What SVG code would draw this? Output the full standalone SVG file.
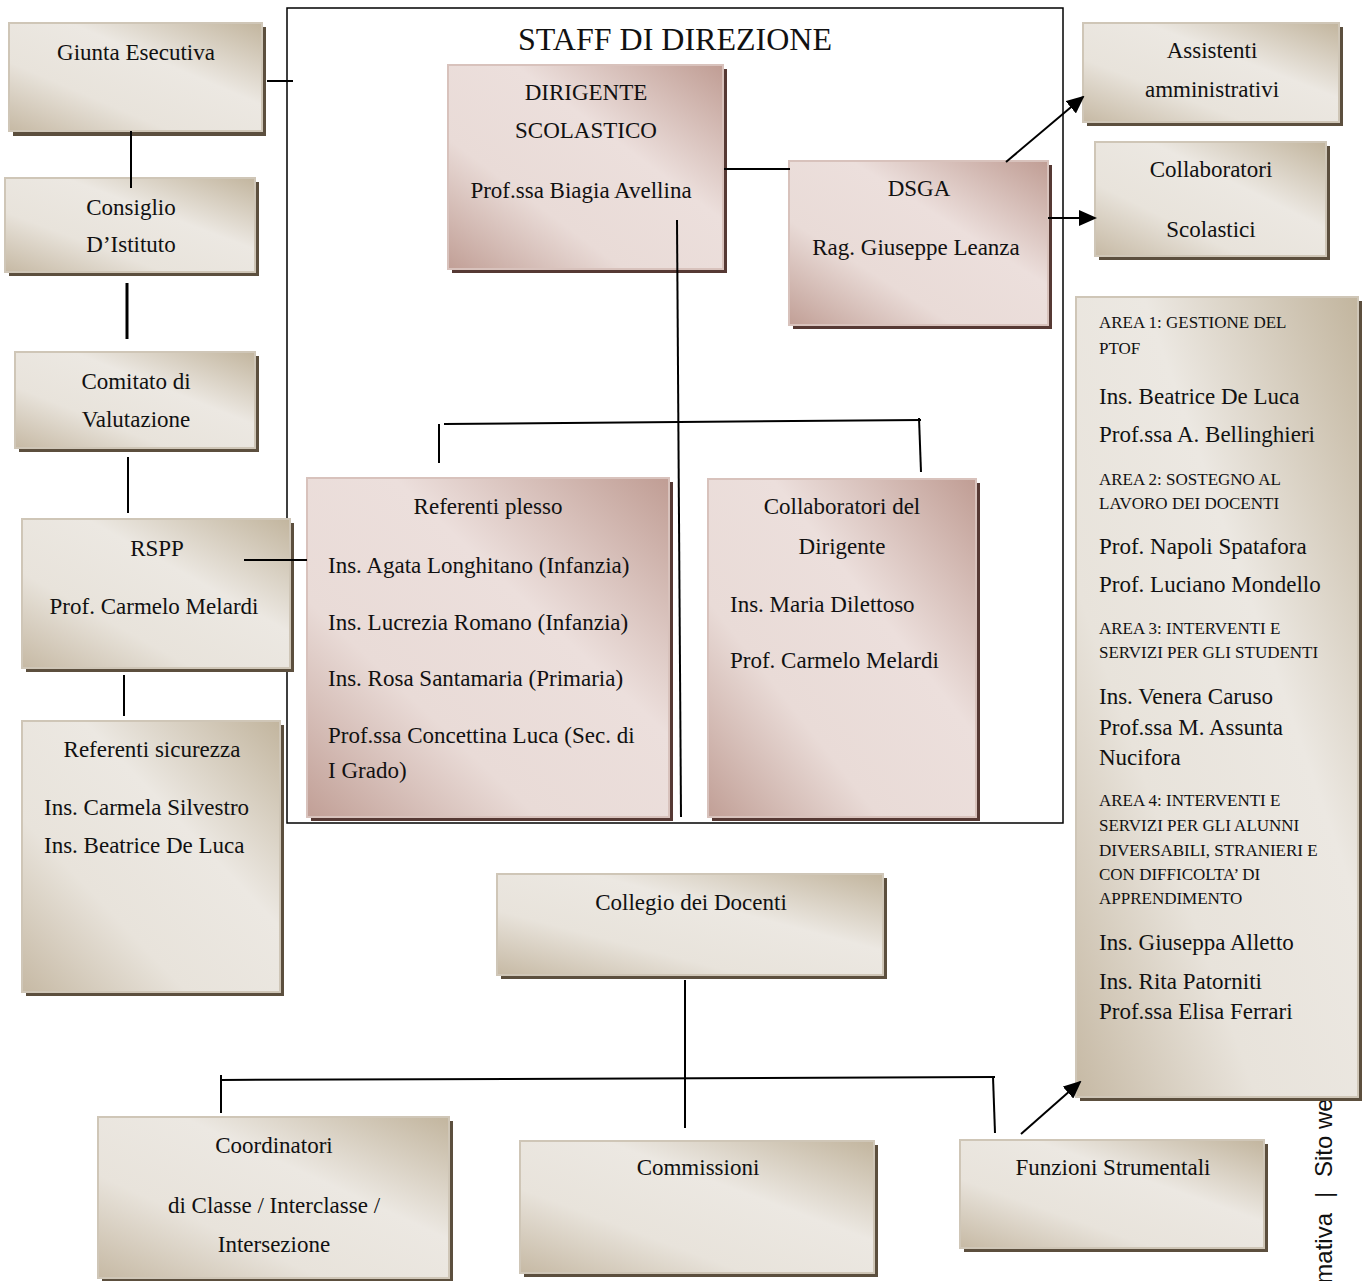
<svg xmlns="http://www.w3.org/2000/svg" width="1367" height="1281" viewBox="0 0 1367 1281">
<defs>
<linearGradient id="gTan" x1="0" y1="1" x2="1" y2="0">
<stop offset="0" stop-color="#c6b9a4"/>
<stop offset="0.32" stop-color="#e8e3db"/>
<stop offset="0.62" stop-color="#ece8e2"/>
<stop offset="1" stop-color="#c2b59e"/>
</linearGradient>
<linearGradient id="gPink" x1="0" y1="1" x2="1" y2="0">
<stop offset="0" stop-color="#c19f96"/>
<stop offset="0.32" stop-color="#e9dbd7"/>
<stop offset="0.62" stop-color="#ecdfdc"/>
<stop offset="1" stop-color="#c09d94"/>
</linearGradient>
<marker id="arr" markerUnits="userSpaceOnUse" markerWidth="18" markerHeight="16" refX="16" refY="8" orient="auto">
<path d="M0,0 L18,8 L0,16 Z" fill="#000"/>
</marker>
</defs>
<style>
.sh-t{fill:#5c4f3e}
.sh-p{fill:#563934}
.bx-t{fill:url(#gTan);stroke:#cfc6b7;stroke-width:2}
.bx-p{fill:url(#gPink);stroke:#d8c2bc;stroke-width:2}
text{font-family:"Liberation Serif","Times New Roman",serif;fill:#111}
.t{font-size:23px}
.c{text-anchor:middle}
.s{font-size:17px}
.big{font-size:32px}
.hdr{font-family:"Liberation Sans",Arial,sans-serif;font-size:24px;fill:#111}
.ln{stroke:#000;stroke-width:2;fill:none}
.lnk{stroke:#000;stroke-width:3;fill:none}
</style>
<rect width="1367" height="1281" fill="#fff"/>
<g id="header">
<g transform="translate(1332,0) rotate(-90)">
<text class="hdr" x="-1213" y="0" text-anchor="end">mativa</text>
<text class="hdr" x="-1198" y="0">|</text>
<text class="hdr" x="-1177" y="0">Sito we</text>
</g>
</g>
<g id="staff-frame">
<rect x="287" y="8" width="776" height="815" fill="none" stroke="#000" stroke-width="1.5"/>
<text class="big c" x="675" y="50">STAFF DI DIREZIONE</text>
</g>
<g id="giunta">
<rect class="sh-t" x="13" y="27" width="253" height="109"/>
<rect class="bx-t" x="9" y="23" width="253" height="108"/>
<text class="t c" x="136" y="60">Giunta Esecutiva</text>
</g>
<g id="consiglio">
<rect class="sh-t" x="9" y="182" width="250" height="94"/>
<rect class="bx-t" x="5" y="178" width="250" height="94"/>
<text class="t c" x="131" y="215">Consiglio</text>
<text class="t c" x="131" y="252">D’Istituto</text>
</g>
<g id="comitato">
<rect class="sh-t" x="19" y="356" width="240" height="96"/>
<rect class="bx-t" x="15" y="352" width="240" height="96"/>
<text class="t c" x="136" y="389">Comitato di</text>
<text class="t c" x="136" y="427">Valutazione</text>
</g>
<g id="rspp">
<rect class="sh-t" x="26" y="523" width="268" height="149"/>
<rect class="bx-t" x="22" y="519" width="268" height="149"/>
<text class="t c" x="157" y="556">RSPP</text>
<text class="t c" x="154" y="614">Prof. Carmelo Melardi</text>
</g>
<g id="ref-sicurezza">
<rect class="sh-t" x="26" y="725" width="258" height="271"/>
<rect class="bx-t" x="22" y="721" width="258" height="271"/>
<text class="t c" x="152" y="757">Referenti sicurezza</text>
<text class="t" x="44" y="815">Ins. Carmela Silvestro</text>
<text class="t" x="44" y="853">Ins. Beatrice De Luca</text>
</g>
<g id="dirigente">
<rect class="sh-p" x="452" y="69" width="275" height="204"/>
<rect class="bx-p" x="448" y="65" width="275" height="204"/>
<text class="t c" x="586" y="100">DIRIGENTE</text>
<text class="t c" x="586" y="138">SCOLASTICO</text>
<text class="t c" x="581" y="198">Prof.ssa Biagia Avellina</text>
</g>
<g id="dsga">
<rect class="sh-p" x="793" y="165" width="259" height="164"/>
<rect class="bx-p" x="789" y="161" width="259" height="164"/>
<text class="t c" x="919" y="196">DSGA</text>
<text class="t c" x="916" y="255">Rag. Giuseppe Leanza</text>
</g>
<g id="assistenti">
<rect class="sh-t" x="1087" y="27" width="256" height="99"/>
<rect class="bx-t" x="1083" y="23" width="256" height="99"/>
<text class="t c" x="1212" y="58">Assistenti</text>
<text class="t c" x="1212" y="97">amministrativi</text>
</g>
<g id="collab-scol">
<rect class="sh-t" x="1099" y="146" width="231" height="114"/>
<rect class="bx-t" x="1095" y="142" width="231" height="114"/>
<text class="t c" x="1211" y="177">Collaboratori</text>
<text class="t c" x="1211" y="237">Scolastici</text>
</g>
<g id="aree">
<rect class="sh-t" x="1080" y="301" width="282" height="800"/>
<rect class="bx-t" x="1076" y="297" width="282" height="800"/>
<text class="s" x="1099" y="328">AREA 1: GESTIONE DEL</text>
<text class="s" x="1099" y="354">PTOF</text>
<text class="t" x="1099" y="404">Ins. Beatrice De Luca</text>
<text class="t" x="1099" y="442">Prof.ssa A. Bellinghieri</text>
<text class="s" x="1099" y="485">AREA 2: SOSTEGNO AL</text>
<text class="s" x="1099" y="509">LAVORO DEI DOCENTI</text>
<text class="t" x="1099" y="554">Prof. Napoli Spatafora</text>
<text class="t" x="1099" y="592">Prof. Luciano Mondello</text>
<text class="s" x="1099" y="634">AREA 3: INTERVENTI E</text>
<text class="s" x="1099" y="658">SERVIZI PER GLI STUDENTI</text>
<text class="t" x="1099" y="704">Ins. Venera Caruso</text>
<text class="t" x="1099" y="735">Prof.ssa M. Assunta</text>
<text class="t" x="1099" y="765">Nucifora</text>
<text class="s" x="1099" y="806">AREA 4: INTERVENTI E</text>
<text class="s" x="1099" y="831">SERVIZI PER GLI ALUNNI</text>
<text class="s" x="1099" y="856">DIVERSABILI, STRANIERI E</text>
<text class="s" x="1099" y="880">CON DIFFICOLTA’ DI</text>
<text class="s" x="1099" y="904">APPRENDIMENTO</text>
<text class="t" x="1099" y="950">Ins. Giuseppa Alletto</text>
<text class="t" x="1099" y="989">Ins. Rita Patorniti</text>
<text class="t" x="1099" y="1019">Prof.ssa Elisa Ferrari</text>
</g>
<g id="ref-plesso">
<rect class="sh-p" x="311" y="482" width="362" height="339"/>
<rect class="bx-p" x="307" y="478" width="362" height="339"/>
<text class="t c" x="488" y="514">Referenti plesso</text>
<text class="t" x="328" y="573">Ins. Agata Longhitano (Infanzia)</text>
<text class="t" x="328" y="630">Ins. Lucrezia Romano (Infanzia)</text>
<text class="t" x="328" y="686">Ins. Rosa Santamaria (Primaria)</text>
<text class="t" x="328" y="743">Prof.ssa Concettina Luca (Sec. di</text>
<text class="t" x="328" y="778">I Grado)</text>
</g>
<g id="collab-dir">
<rect class="sh-p" x="712" y="483" width="268" height="338"/>
<rect class="bx-p" x="708" y="479" width="268" height="338"/>
<text class="t c" x="842" y="514">Collaboratori del</text>
<text class="t c" x="842" y="554">Dirigente</text>
<text class="t" x="730" y="612">Ins. Maria Dilettoso</text>
<text class="t" x="730" y="668">Prof. Carmelo Melardi</text>
</g>
<g id="collegio">
<rect class="sh-t" x="501" y="878" width="386" height="101"/>
<rect class="bx-t" x="497" y="874" width="386" height="101"/>
<text class="t c" x="691" y="910">Collegio dei Docenti</text>
</g>
<g id="coordinatori">
<rect class="sh-t" x="102" y="1121" width="351" height="161"/>
<rect class="bx-t" x="98" y="1117" width="351" height="161"/>
<text class="t c" x="274" y="1153">Coordinatori</text>
<text class="t c" x="274" y="1213">di Classe / Interclasse /</text>
<text class="t c" x="274" y="1252">Intersezione</text>
</g>
<g id="commissioni">
<rect class="sh-t" x="524" y="1145" width="354" height="132"/>
<rect class="bx-t" x="520" y="1141" width="354" height="132"/>
<text class="t c" x="698" y="1175">Commissioni</text>
</g>
<g id="funzioni">
<rect class="sh-t" x="964" y="1144" width="304" height="108"/>
<rect class="bx-t" x="960" y="1140" width="304" height="108"/>
<text class="t c" x="1113" y="1175">Funzioni Strumentali</text>
</g>
<g id="connectors">
<path class="ln" d="M267,81 H293"/>
<path class="ln" d="M131,131 V188"/>
<path class="lnk" d="M127,283 V339"/>
<path class="ln" d="M128,457 V513"/>
<path class="ln" d="M244,560 H307"/>
<path class="ln" d="M124,675 V716"/>
<path class="ln" d="M724,169 H790"/>
<path class="ln" d="M677,220 L681,817"/>
<path class="ln" d="M444,424 L921,420"/>
<path class="ln" d="M439,424 V463"/>
<path class="ln" d="M919,418 L921,472"/>
<path class="ln" d="M685,980 V1128"/>
<path class="ln" d="M221,1080 L995,1077"/>
<path class="ln" d="M221,1075 V1113"/>
<path class="ln" d="M993,1077 L995,1133"/>
<path class="ln" d="M1006,162 L1083,97" marker-end="url(#arr)"/>
<path class="ln" d="M1048,218 L1095,218" marker-end="url(#arr)"/>
<path class="ln" d="M1021,1134 L1080,1082" marker-end="url(#arr)"/>
</g>
</svg>
